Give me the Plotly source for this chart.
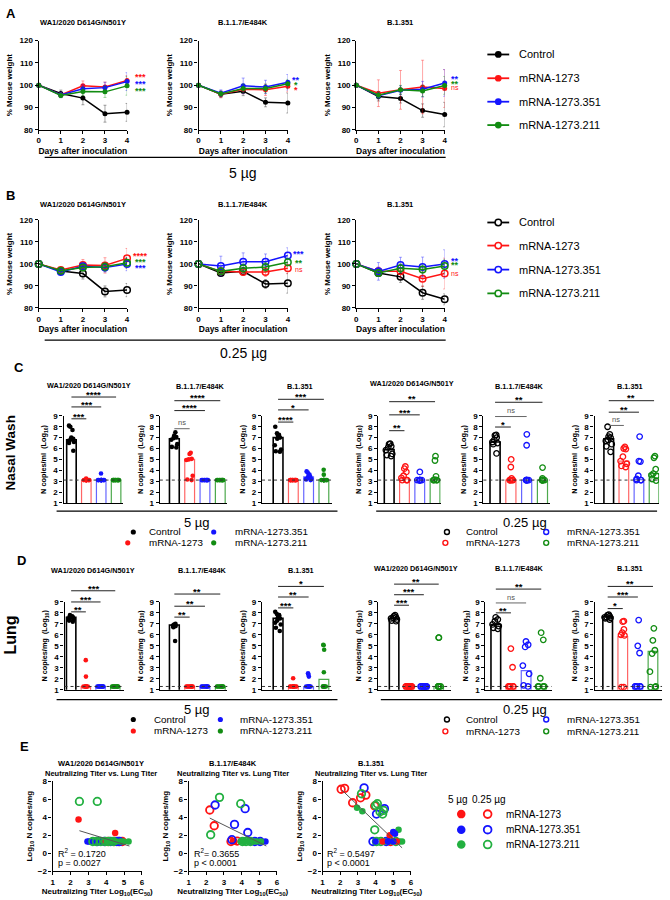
import plotly.graph_objects as go

W, H = 670, 900
FONT = "Liberation Sans, Arial, Helvetica, sans-serif"

# ---------------- categories / ticks ----------------
groups = ["Control", "mRNA-1273", "mRNA-1273.351", "mRNA-1273.211"]
variants = ["WA1/2020 D614G/N501Y", "B.1.1.7/E484K", "B.1.351"]
days = [0, 1, 2, 3, 4]
weight_yticks = [80, 90, 100, 110, 120]
log_yticks = [1, 2, 3, 4, 5, 6, 7, 8, 9]
e_xticks = [1, 2, 3, 4, 5, 6]
e_yticks = [-2, 0, 2, 4, 6, 8]
nasal_lod = 3.1
lung_lod = 1.3

colors = {"Control": "#000000", "mRNA-1273": "#ff1414", "mRNA-1273.351": "#1414ff", "mRNA-1273.211": "#128c12"}
err_colors = {"Control": "rgba(0,0,0,0.35)", "mRNA-1273": "rgba(255,0,0,0.35)",
              "mRNA-1273.351": "rgba(0,0,255,0.35)", "mRNA-1273.211": "rgba(0,140,0,0.35)"}
bar_line = {"Control": "#000000", "mRNA-1273": "rgba(255,20,20,0.65)",
            "mRNA-1273.351": "rgba(20,20,255,0.65)", "mRNA-1273.211": "rgba(18,140,18,0.75)"}
e_colors = {"mRNA-1273": "#ff1414", "mRNA-1273.351": "#1414ff", "mRNA-1273.211": "#22b040"}

# ---------------- panel A: weights, 5 ug ----------------
wt5_wa1_control = [100, 96.3, 94.2, 87.2, 87.8]
wt5_wa1_1273 = [100, 95.6, 99.7, 99.2, 102.1]
wt5_wa1_351 = [100, 95.6, 98.4, 98.9, 101.6]
wt5_wa1_211 = [100, 95.4, 97.2, 97.0, 99.7]
sd5_wa1_control = [0, 1.5, 3.0, 3.8, 4.0]
sd5_wa1_1273 = [0, 1.0, 2.2, 2.2, 2.2]
sd5_wa1_351 = [0, 1.2, 1.8, 2.4, 4.0]
sd5_wa1_211 = [0, 1.0, 1.8, 2.5, 4.2]

wt5_b117_control = [100, 95.9, 97.3, 92.3, 92.0]
wt5_b117_1273 = [100, 95.9, 98.2, 97.9, 99.5]
wt5_b117_351 = [100, 96.4, 99.7, 99.2, 101.3]
wt5_b117_211 = [100, 96.1, 98.5, 98.5, 100.6]
sd5_b117_control = [0, 1.5, 2.0, 2.0, 4.5]
sd5_b117_1273 = [0, 1.5, 2.0, 2.5, 2.5]
sd5_b117_351 = [0, 1.5, 3.5, 3.0, 3.5]
sd5_b117_211 = [0, 1.0, 2.0, 2.0, 2.0]

wt5_b1351_control = [100, 94.9, 94.0, 88.6, 86.8]
wt5_b1351_1273 = [100, 96.4, 97.9, 99.2, 98.5]
wt5_b1351_351 = [100, 95.3, 97.7, 98.2, 101.0]
wt5_b1351_211 = [100, 95.5, 97.9, 97.4, 99.9]
sd5_b1351_control = [0, 2.0, 2.0, 3.0, 5.5]
sd5_b1351_1273 = [0, 6.0, 8.7, 12.0, 8.5]
sd5_b1351_351 = [0, 1.5, 2.0, 3.5, 6.0]
sd5_b1351_211 = [0, 1.5, 2.0, 2.5, 4.0]

# ---------------- panel B: weights, 0.25 ug ----------------
wt025_wa1_control = [100, 96.8, 95.6, 87.5, 88.1]
wt025_wa1_1273 = [100, 97.2, 99.5, 99.3, 102.5]
wt025_wa1_351 = [100, 96.3, 98.9, 98.3, 99.9]
wt025_wa1_211 = [100, 96.9, 98.3, 98.7, 100.5]
sd025_wa1_control = [0, 1.5, 2.5, 2.5, 3.0]
sd025_wa1_1273 = [0, 1.0, 2.5, 3.5, 4.5]
sd025_wa1_351 = [0, 1.0, 1.5, 2.0, 3.0]
sd025_wa1_211 = [0, 1.0, 1.5, 2.0, 2.5]

wt025_b117_control = [100, 95.9, 96.6, 90.9, 91.2]
wt025_b117_1273 = [100, 96.6, 96.3, 96.3, 98.0]
wt025_b117_351 = [100, 99.0, 101.0, 101.0, 103.8]
wt025_b117_211 = [100, 96.6, 98.0, 98.6, 100.7]
sd025_b117_control = [0, 1.0, 1.5, 2.0, 4.5]
sd025_b117_1273 = [0, 1.5, 1.5, 2.0, 2.5]
sd025_b117_351 = [0, 4.5, 4.0, 3.5, 3.5]
sd025_b117_211 = [0, 1.5, 2.0, 2.0, 2.0]

wt025_b1351_control = [100, 95.9, 94.1, 86.9, 83.9]
wt025_b1351_1273 = [100, 96.6, 96.6, 93.3, 95.6]
wt025_b1351_351 = [100, 96.6, 99.5, 98.6, 99.9]
wt025_b1351_211 = [100, 95.9, 98.0, 97.5, 99.0]
sd025_b1351_control = [0, 1.5, 2.5, 3.0, 2.5]
sd025_b1351_1273 = [0, 2.0, 3.0, 3.5, 7.0]
sd025_b1351_351 = [0, 4.0, 3.5, 4.5, 6.5]
sd025_b1351_211 = [0, 1.5, 2.0, 2.0, 3.0]

# significance vs control, order: mRNA-1273, mRNA-1273.351, mRNA-1273.211
wsig5_wa1 = ["***", "***", "***"]
wsig5_b117 = ["*", "**", "*"]
wsig5_b1351 = ["ns", "**", "**"]
wsig025_wa1 = ["****", "***", "***"]
wsig025_b117 = ["ns", "***", "**"]
wsig025_b1351 = ["ns", "**", "**"]

# ---------------- panel C: nasal wash (log10 N copies/ml) ----------------
nw5_wa1_control = [8.1, 8.0, 7.7, 7.0, 6.9, 6.8, 6.7, 6.6, 6.5, 5.8]
nw5_wa1_1273 = [3.25, 3.15, 3.1, 3.1, 3.1, 3.1, 3.1, 3.1, 3.1, 3.1]
nw5_wa1_351 = [3.7, 3.1, 3.1, 3.1, 3.1, 3.1, 3.1, 3.1, 3.1, 3.1]
nw5_wa1_211 = [3.1, 3.1, 3.1, 3.1, 3.1, 3.1, 3.1, 3.1, 3.1, 3.1]
nw5_wa1_bar = [6.8, 3.1, 3.15, 3.1]
nw5_wa1_sig = ["***", "***", "****"]

nw5_b117_control = [7.5, 7.2, 7.05, 6.95, 6.8, 6.4, 6.15, 6.1]
nw5_b117_1273 = [5.6, 5.5, 5.05, 5.0, 4.95, 3.5, 3.15, 3.1]
nw5_b117_351 = [3.1, 3.1, 3.1, 3.1, 3.1, 3.1, 3.1, 3.1]
nw5_b117_211 = [3.1, 3.1, 3.1, 3.1, 3.1, 3.1, 3.1, 3.1]
nw5_b117_bar = [6.9, 5.0, 3.1, 3.1]
nw5_b117_sig = ["ns", "****", "****"]

nw5_b1351_control = [8.0, 7.4, 7.25, 7.2, 7.0, 6.9, 6.3, 5.9, 5.75, 5.7]
nw5_b1351_1273 = [3.1, 3.1, 3.1, 3.1, 3.1, 3.1, 3.1, 3.1, 3.1, 3.1]
nw5_b1351_351 = [3.9, 3.8, 3.6, 3.5, 3.4, 3.3, 3.2, 3.2, 3.15, 3.1]
nw5_b1351_211 = [4.05, 3.6, 3.1, 3.1, 3.1, 3.1, 3.1, 3.1, 3.1, 3.1]
nw5_b1351_bar = [7.0, 3.1, 3.4, 3.15]
nw5_b1351_sig = ["****", "*", "***"]

nw025_wa1_control = [6.45, 6.4, 6.2, 6.1, 5.85, 5.5, 5.4, 5.3]
nw025_wa1_1273 = [4.35, 4.15, 3.85, 3.5, 3.3, 3.1, 3.1, 3.1]
nw025_wa1_351 = [3.85, 3.1, 3.1, 3.1, 3.1, 3.1, 3.1, 3.1]
nw025_wa1_211 = [5.3, 4.9, 3.45, 3.15, 3.1, 3.1, 3.1, 3.1]
nw025_wa1_bar = [5.9, 3.2, 3.1, 3.2]
nw025_wa1_sig = ["**", "***", "**"]

nw025_b117_control = [7.25, 7.2, 7.0, 6.8, 6.6, 6.5, 6.4, 5.55]
nw025_b117_1273 = [5.0, 4.3, 3.25, 3.1, 3.1, 3.1, 3.1, 3.1]
nw025_b117_351 = [7.3, 6.3, 3.1, 3.1, 3.1, 3.1, 3.1, 3.1]
nw025_b117_211 = [4.25, 3.25, 3.1, 3.1, 3.1, 3.1, 3.1, 3.1]
nw025_b117_bar = [6.6, 3.1, 3.1, 3.1]
nw025_b117_sig = ["*", "ns", "**"]

nw025_b1351_control = [8.0, 7.3, 7.1, 7.0, 6.8, 6.7, 6.4, 6.2, 5.7]
nw025_b1351_1273 = [6.15, 6.0, 5.95, 5.25, 4.85, 4.6, 4.4, 4.3]
nw025_b1351_351 = [7.1, 4.85, 4.8, 3.5, 3.2, 3.1, 3.1, 3.1]
nw025_b1351_211 = [5.3, 5.15, 4.1, 3.7, 3.55, 3.5, 3.2, 3.05]
nw025_b1351_bar = [6.9, 4.85, 3.15, 3.7]
nw025_b1351_sig = ["ns", "**", "**"]

# ---------------- panel D: lung (log10 N copies/mg) ----------------
lu5_wa1_control = [7.8, 7.7, 7.65, 7.6, 7.55, 7.5, 7.45, 7.3, 7.2]
lu5_wa1_1273 = [3.7, 2.2, 1.3, 1.3, 1.3, 1.3, 1.3, 1.3, 1.3]
lu5_wa1_351 = [1.3, 1.3, 1.3, 1.3, 1.3, 1.3, 1.3, 1.3, 1.3]
lu5_wa1_211 = [1.3, 1.3, 1.3, 1.3, 1.3, 1.3, 1.3, 1.3, 1.3]
lu5_wa1_bar = [7.6, 1.3, 1.3, 1.3]
lu5_wa1_sig = ["**", "***", "***"]

lu5_b117_control = [7.0, 6.95, 6.9, 6.9, 6.85, 6.8, 6.7, 5.45]
lu5_b117_1273 = [1.3, 1.3, 1.3, 1.3, 1.3, 1.3, 1.3, 1.3]
lu5_b117_351 = [1.3, 1.3, 1.3, 1.3, 1.3, 1.3, 1.3, 1.3]
lu5_b117_211 = [1.3, 1.3, 1.3, 1.3, 1.3, 1.3, 1.3, 1.3]
lu5_b117_bar = [6.9, 1.3, 1.3, 1.3]
lu5_b117_sig = ["**", "**", "**"]

lu5_b1351_control = [8.1, 7.9, 7.8, 7.6, 7.5, 7.3, 7.1, 6.95, 6.65, 6.35]
lu5_b1351_1273 = [2.05, 1.3, 1.3, 1.3, 1.3, 1.3, 1.3, 1.3, 1.3, 1.3]
lu5_b1351_351 = [2.5, 2.4, 2.2, 1.3, 1.3, 1.3, 1.3, 1.3, 1.3, 1.3]
lu5_b1351_211 = [5.1, 5.05, 4.65, 2.6, 1.3, 1.3, 1.3, 1.3, 1.3, 1.3]
lu5_b1351_bar = [7.5, 1.3, 1.3, 1.95]
lu5_b1351_sig = ["***", "**", "*"]

lu025_wa1_control = [7.8, 7.7, 7.6, 7.55, 7.5, 7.4, 7.3, 7.25]
lu025_wa1_1273 = [1.3, 1.3, 1.3, 1.3, 1.3, 1.3, 1.3, 1.3]
lu025_wa1_351 = [1.3, 1.3, 1.3, 1.3, 1.3, 1.3, 1.3, 1.3]
lu025_wa1_211 = [5.75, 5.75, 1.3, 1.3, 1.3, 1.3, 1.3, 1.3]
lu025_wa1_bar = [7.5, 1.3, 1.3, 1.3]
lu025_wa1_sig = ["***", "***", "**"]

lu025_b117_control = [7.6, 7.4, 7.25, 6.95, 6.8, 6.65, 6.55]
lu025_b117_1273 = [4.75, 3.05, 1.3, 1.3, 1.3, 1.3, 1.3]
lu025_b117_351 = [5.4, 5.1, 4.9, 3.2, 2.45, 1.4, 1.3]
lu025_b117_211 = [6.2, 5.55, 2.05, 1.3, 1.3, 1.3, 1.3]
lu025_b117_bar = [6.95, 1.3, 2.75, 1.3]
lu025_b117_sig = ["**", "ns", "**"]

lu025_b1351_control = [7.85, 7.8, 7.7, 7.6, 7.6, 7.55, 7.5, 7.4]
lu025_b1351_1273 = [7.25, 7.2, 6.5, 6.2, 6.0, 5.95, 1.25, 1.25]
lu025_b1351_351 = [7.35, 5.0, 4.35, 1.3, 1.3, 1.3, 1.3, 1.3]
lu025_b1351_211 = [6.6, 5.5, 4.6, 4.3, 2.65, 1.3, 1.25, 1.25]
lu025_b1351_bar = [7.65, 5.85, 1.3, 4.5]
lu025_b1351_sig = ["*", "***", "**"]

# ---------------- panel E: neutralizing titer vs lung titer ----------------
e1_1273_5_x = [2.45, 4.5, 3.75, 4.05, 4.3, 4.6, 4.85]
e1_1273_5_y = [3.75, 2.25, 1.3, 1.3, 1.3, 1.3, 1.3]
e1_1273_025_x = [4.1, 4.45, 4.7, 4.9]
e1_1273_025_y = [1.3, 1.3, 1.3, 1.3]
e1_351_5_x = [2.95, 3.05, 3.15, 3.3, 3.45, 3.6]
e1_351_5_y = [1.3, 1.3, 1.3, 1.3, 1.3, 1.3]
e1_351_025_x = [3.5, 3.9, 4.25, 4.6, 4.75]
e1_351_025_y = [1.3, 1.3, 1.3, 1.3, 1.3]
e1_211_025_x = [2.5, 3.5, 3.25, 3.45, 3.7, 3.95, 4.15, 4.4]
e1_211_025_y = [5.75, 5.75, 1.3, 1.3, 1.3, 1.3, 1.3, 1.3]
e1_211_5_x = [4.05, 4.3, 4.55, 4.8, 4.95, 5.25]
e1_211_5_y = [1.3, 1.3, 1.3, 1.3, 1.3, 1.3]
e1_fit_x = [2.5, 5.3]
e1_fit_y = [2.5, 0.8]
e1_r2 = "0.1720"
e1_p = "p = 0.0027"

e2_1273_025_x = [2.2, 2.45, 3.4, 3.75]
e2_1273_025_y = [4.8, 3.05, 1.3, 1.35]
e2_1273_5_x = [3.5, 3.6, 4.6]
e2_1273_5_y = [1.3, 1.3, 1.3]
e2_351_025_x = [2.5, 3.6, 4.2, 4.35, 3.45, 4.75, 5.05]
e2_351_025_y = [5.35, 3.2, 4.95, 2.3, 1.5, 1.3, 1.3]
e2_351_5_x = [4.5, 4.9, 5.35]
e2_351_5_y = [1.3, 1.3, 1.3]
e2_211_025_x = [2.25, 2.75, 3.95, 4.05, 4.25, 4.5]
e2_211_025_y = [2.05, 6.2, 5.5, 1.3, 1.3, 1.3]
e2_211_5_x = [3.95, 4.1, 4.35, 4.65, 4.85, 5.1]
e2_211_5_y = [1.3, 1.3, 1.3, 1.3, 1.3, 1.3]
e2_fit_x = [2.2, 5.4]
e2_fit_y = [3.9, 0.8]
e2_r2 = "0.3655"
e2_p = "p < 0.0001"

e3_1273_025_x = [2.05, 2.25, 2.7, 3.15, 3.45, 3.95, 4.85]
e3_1273_025_y = [7.1, 7.2, 5.6, 6.15, 6.45, 5.25, 1.3]
e3_1273_5_x = [4.8, 4.4, 5.2]
e3_1273_5_y = [2.0, 1.3, 1.3]
e3_351_025_x = [3.35, 4.05, 4.5, 3.85, 4.6]
e3_351_025_y = [7.25, 4.35, 4.95, 1.3, 1.3]
e3_351_5_x = [5.0, 5.1, 4.0, 4.7, 5.0]
e3_351_5_y = [2.35, 2.15, 1.3, 1.3, 1.3]
e3_211_025_x = [3.2, 4.0, 4.1, 4.25, 4.4, 4.45, 3.95, 4.05, 4.3, 5.15]
e3_211_025_y = [6.6, 5.3, 5.5, 4.6, 4.35, 4.75, 2.6, 1.3, 1.3, 1.3]
e3_211_5_x = [2.95, 3.25, 5.3, 4.55, 4.9, 5.35, 5.5]
e3_211_5_y = [5.05, 4.65, 2.6, 1.3, 1.3, 1.3, 1.3]
e3_fit_x = [2.1, 5.5]
e3_fit_y = [7.0, 0.6]
e3_r2 = "0.5497"
e3_p = "p < 0.0001"

# ---------------- assemble ----------------
weights = {
    ("5", 0): ([wt5_wa1_control, wt5_wa1_1273, wt5_wa1_351, wt5_wa1_211],
               [sd5_wa1_control, sd5_wa1_1273, sd5_wa1_351, sd5_wa1_211], wsig5_wa1),
    ("5", 1): ([wt5_b117_control, wt5_b117_1273, wt5_b117_351, wt5_b117_211],
               [sd5_b117_control, sd5_b117_1273, sd5_b117_351, sd5_b117_211], wsig5_b117),
    ("5", 2): ([wt5_b1351_control, wt5_b1351_1273, wt5_b1351_351, wt5_b1351_211],
               [sd5_b1351_control, sd5_b1351_1273, sd5_b1351_351, sd5_b1351_211], wsig5_b1351),
    ("025", 0): ([wt025_wa1_control, wt025_wa1_1273, wt025_wa1_351, wt025_wa1_211],
                 [sd025_wa1_control, sd025_wa1_1273, sd025_wa1_351, sd025_wa1_211], wsig025_wa1),
    ("025", 1): ([wt025_b117_control, wt025_b117_1273, wt025_b117_351, wt025_b117_211],
                 [sd025_b117_control, sd025_b117_1273, sd025_b117_351, sd025_b117_211], wsig025_b117),
    ("025", 2): ([wt025_b1351_control, wt025_b1351_1273, wt025_b1351_351, wt025_b1351_211],
                 [sd025_b1351_control, sd025_b1351_1273, sd025_b1351_351, sd025_b1351_211], wsig025_b1351),
}

fig = go.Figure()
axes = {}
annotations = []
shapes = []
count = [0]


def new_axes(x0, x1, ytop, ybot, xr, yr, xkw=None, ykw=None):
    count[0] += 1
    n = count[0]
    s = "" if n == 1 else str(n)
    base = dict(showline=True, linecolor="black", linewidth=1.3, ticks="outside", ticklen=3,
                tickwidth=1.3, tickcolor="black", showgrid=False, zeroline=False, fixedrange=True,
                tickfont=dict(family=FONT, size=8, color="black", weight="bold"))
    xa = dict(base, domain=[x0 / W, x1 / W], range=xr, anchor="y" + s)
    ya = dict(base, domain=[1 - ybot / H, 1 - ytop / H], range=yr, anchor="x" + s)
    if xkw:
        xa.update(xkw)
    if ykw:
        ya.update(ykw)
    axes["xaxis" + s] = xa
    axes["yaxis" + s] = ya
    return "x" + s, "y" + s


def text(x, y, s, size=8, bold=False, color="black", xanchor="center", yanchor="middle", angle=0):
    annotations.append(dict(x=x / W, y=1 - y / H, xref="paper", yref="paper", text=s, showarrow=False,
                            xanchor=xanchor, yanchor=yanchor, textangle=angle, borderpad=0,
                            font=dict(family=FONT, size=size, color=color,
                                      weight="bold" if bold else "normal")))


def seg(x0, y0, x1, y1, color="black", width=1.0, dash="solid"):
    shapes.append(dict(type="line", xref="paper", yref="paper", x0=x0 / W, y0=1 - y0 / H,
                       x1=x1 / W, y1=1 - y1 / H, line=dict(color=color, width=width, dash=dash)))


def dot(cx, cy, r, color, filled, lw=1.5):
    shapes.append(dict(type="circle", xref="paper", yref="paper", x0=(cx - r) / W, x1=(cx + r) / W,
                       y0=1 - (cy + r) / H, y1=1 - (cy - r) / H,
                       fillcolor=color if filled else "white",
                       line=dict(color=color, width=0 if filled else lw)))


def atitle(s, size=8, standoff=4):
    return dict(text=s, font=dict(family=FONT, size=size, color="black", weight="bold"), standoff=standoff)


# ---------- panels A & B ----------
line_cols = [(37, 126), (198, 288), (357, 446)]
line_title_x = [81.5, 242.7, 400.8]
line_rows = {"5": dict(top=37, bot=127, title=19, sig_x=[140, 296, 456],
                       sig_y=[[72, 79, 86], [85, 75, 80], [85, 74.5, 79]]),
             "025": dict(top=218, bot=307, title=202.3, sig_x=[140, 299, 456.7],
                         sig_y=[[253.3, 265.3, 259.3], [268.7, 250.7, 259.7], [273, 257.7, 262]])}

for dose in ["5", "025"]:
    row = line_rows[dose]
    for c, (x0, x1) in enumerate(line_cols):
        xa, ya = new_axes(x0, x1, row["top"], row["bot"], [0, 4], [80, 120],
                          xkw=dict(tickvals=days, title=atitle("Days after inoculation", 8.5, 3)),
                          ykw=dict(tickvals=weight_yticks, title=atitle("% Mouse weight", 8, 5)))
        vals, sds, sig = weights[(dose, c)]
        for g, y, sd in zip(groups, vals, sds):
            if dose == "5":
                mk = dict(color=colors[g], size=5, symbol="circle")
            else:
                mk = dict(color=colors[g], size=6.5, symbol="circle-open", line=dict(width=1.5, color=colors[g]))
            fig.add_trace(go.Scatter(
                x=days, y=y, xaxis=xa, yaxis=ya, mode="lines+markers", name=g, showlegend=False,
                line=dict(color=colors[g], width=1.5), marker=mk, cliponaxis=False,
                error_y=dict(type="data", array=sd, color=err_colors[g], thickness=1, width=1.5)))
        text(line_title_x[c], row["title"], variants[c], 7.5, True)
        for k, g in enumerate(groups[1:]):
            lab = sig[k]
            if lab == "ns":
                text(row["sig_x"][c], row["sig_y"][c][k] - 1, lab, 7, False, colors[g])
            else:
                text(row["sig_x"][c], row["sig_y"][c][k] + 1.5, lab, 9, True, colors[g])

# letters / dose dividers for A and B
text(9, 10, "A", 13, True)
text(9, 193, "B", 13, True)
seg(43, 155, 447, 155, "black", 1.2)
text(243, 171, "5 µg", 14)
seg(43, 339.5, 447, 339.5, "black", 1.2)
text(243, 353, "0.25 µg", 14)

# legends A and B
for yrows, filled in [([51, 75, 98.7, 122.3], True), ([220.7, 244, 268.3, 292.3], False)]:
    for g, yy in zip(groups, yrows):
        seg(489, yy, 511, yy, colors[g], 1.8)
        dot(500, yy, 3.4 if filled else 3.2, colors[g], filled, 1.5)
        text(520, yy, g, 11, xanchor="left")

# ---------- panels C & D ----------
bar_panels = [
    # kind, dose, col, x0, x1, ytop, ybot, xrange, bracket y (px), title x, title y, points, bar, sig
    ("nw", "5", 0, 62, 122, 416, 504, [-0.53, 3.47], [419, 407, 397], 88, 385,
     [nw5_wa1_control, nw5_wa1_1273, nw5_wa1_351, nw5_wa1_211], nw5_wa1_bar, nw5_wa1_sig),
    ("nw", "5", 1, 159, 227, 416, 504, [-0.95, 3.46], [429, 410.7, 400.7], 200, 386.7,
     [nw5_b117_control, nw5_b117_1273, nw5_b117_351, nw5_b117_211], nw5_b117_bar, nw5_b117_sig),
    ("nw", "5", 2, 262, 332, 416, 504, [-1.05, 3.5], [422.3, 410, 399.3], 300, 386.7,
     [nw5_b1351_control, nw5_b1351_1273, nw5_b1351_351, nw5_b1351_211], nw5_b1351_bar, nw5_b1351_sig),
    ("nw", "025", 0, 379, 442, 416, 504, [-0.72, 3.37], [431, 415, 401.7], 413, 383.3,
     [nw025_wa1_control, nw025_wa1_1273, nw025_wa1_351, nw025_wa1_211], nw025_wa1_bar, nw025_wa1_sig),
    ("nw", "025", 1, 485, 552, 416, 504, [-0.74, 3.47], [427.3, 416.7, 402.3], 521, 386.7,
     [nw025_b117_control, nw025_b117_1273, nw025_b117_351, nw025_b117_211], nw025_b117_bar, nw025_b117_sig),
    ("nw", "025", 2, 597, 662, 416, 504, [-0.94, 3.33], [425.7, 412.3, 400.7], 633, 386.7,
     [nw025_b1351_control, nw025_b1351_1273, nw025_b1351_351, nw025_b1351_211], nw025_b1351_bar, nw025_b1351_sig),
    ("lu", "5", 0, 63, 123, 604, 692.7, [-0.45, 3.6], [614, 604, 592.7], 91.7, 572.3,
     [lu5_wa1_control, lu5_wa1_1273, lu5_wa1_351, lu5_wa1_211], lu5_wa1_bar, lu5_wa1_sig),
    ("lu", "5", 1, 159, 227, 604, 692.7, [-0.95, 3.46], [619.3, 608.3, 596], 201.7, 572.3,
     [lu5_b117_control, lu5_b117_1273, lu5_b117_351, lu5_b117_211], lu5_b117_bar, lu5_b117_sig),
    ("lu", "5", 2, 262, 332, 604, 692.7, [-1.05, 3.5], [610, 599, 588.3], 301.7, 572.3,
     [lu5_b1351_control, lu5_b1351_1273, lu5_b1351_351, lu5_b1351_211], lu5_b1351_bar, lu5_b1351_sig),
    ("lu", "025", 0, 379, 452, 604, 692.7, [-1.07, 3.8], [607.3, 596.7, 586], 417, 570.7,
     [lu025_wa1_control, lu025_wa1_1273, lu025_wa1_351, lu025_wa1_211], lu025_wa1_bar, lu025_wa1_sig),
    ("lu", "025", 1, 487, 554, 604, 692.7, [-0.69, 3.7], [615, 605, 591], 521.7, 570.7,
     [lu025_b117_control, lu025_b117_1273, lu025_b117_351, lu025_b117_211], lu025_b117_bar, lu025_b117_sig),
    ("lu", "025", 2, 597, 665, 604, 692.7, [-0.87, 3.6], [610.7, 599, 588.3], 632.5, 570.7,
     [lu025_b1351_control, lu025_b1351_1273, lu025_b1351_351, lu025_b1351_211], lu025_b1351_bar, lu025_b1351_sig),
]

for (kind, dose, col, x0, x1, ytop, ybot, xr, bys, tx, ty, pts, bar, sig) in bar_panels:
    ytitle = "N copies/ml  (Log<sub>10</sub>)" if kind == "nw" else "N copies/mg  (Log<sub>10</sub>)"
    xa, ya = new_axes(x0, x1, ytop, ybot, xr, [1, 9],
                      xkw=dict(showticklabels=False, ticks=""),
                      ykw=dict(tickvals=log_yticks, title=atitle(ytitle, 7.3, 5)))
    pos = list(range(len(groups)))
    fig.add_trace(go.Bar(
        x=pos, y=bar, xaxis=xa, yaxis=ya, width=0.64, showlegend=False, hoverinfo="skip",
        marker=dict(color="white", line=dict(color=[bar_line[g] for g in groups],
                                             width=[1.6, 1.2, 1.2, 1.2]))))
    lod = nasal_lod if kind == "nw" else lung_lod
    shapes.append(dict(type="line", xref=xa + " domain", yref=ya, x0=0, x1=1, y0=lod, y1=lod,
                       line=dict(color="#333333", width=1, dash="dot"), layer="above"))
    for i, (g, v) in enumerate(zip(groups, pts)):
        if dose == "5":
            mk = dict(color=colors[g], size=4.6, symbol="circle", line=dict(width=0))
        else:
            mk = dict(color=colors[g], size=5.5, symbol="circle-open", line=dict(width=1.3, color=colors[g]))
        fig.add_trace(go.Box(
            x=[pos[i]] * len(v), y=v, xaxis=xa, yaxis=ya, name=g, showlegend=False,
            boxpoints="all", jitter=0.85, pointpos=0, width=0.6, fillcolor="rgba(0,0,0,0)",
            line=dict(width=0, color="rgba(0,0,0,0)"), marker=mk, hoverinfo="skip"))

    def to_px(v, x0=x0, x1=x1, xr=xr):
        return x0 + (v - xr[0]) / (xr[1] - xr[0]) * (x1 - x0)

    for k in range(3):
        xa_px, xb_px = to_px(pos[0]), to_px(pos[k + 1])
        lab = sig[k]
        if lab == "ns":
            seg(xa_px, bys[k], xb_px, bys[k], "#666666", 1)
            text((xa_px + xb_px) / 2, bys[k] - 6, lab, 7.5, False, "#555555")
        else:
            seg(xa_px, bys[k], xb_px, bys[k], "#222222", 1)
            text((xa_px + xb_px) / 2, bys[k] - 2.8, lab, 9.5, True, "black")
    text(tx, ty, variants[col], 7.3, True)

text(16.7, 366.7, "C", 13, True)
text(20, 561.7, "D", 13, True)
text(9, 453, "Nasal Wash", 13.5, True, angle=-90)
text(9, 637, "Lung", 16, True, angle=-90)

# dose dividers for C and D
seg(55, 512.3, 338, 512.3, "black", 1.2)
text(196.7, 523.3, "5 µg", 13)
seg(377, 512.3, 660, 512.3, "black", 1.2)
text(526.7, 523.3, "0.25 µg", 13)
seg(55, 702.7, 338, 702.7, "black", 1.2)
text(196.7, 713, "5 µg", 13)
seg(381.7, 702.7, 665, 702.7, "black", 1.2)
text(526.7, 713, "0.25 µg", 13)

# legends C and D
leg_specs = [
    (533.3, 544.3, (132.3, 126.7), 146.7, 213.3, 233.3, True),
    (533.3, 544.3, (448.3, 446.7), 466.7, 548.3, 568.3, False),
    (722.7, 734.3, (132.3, 132.3), 151.7, 220, 238.3, True),
    (722.7, 734.7, (448.3, 446.7), 466.7, 548.3, 568.3, False),
]
for (yt, yb, lxs, ltx, rx, rtx, filled) in leg_specs:
    items = [(groups[0], lxs[0], yt, ltx), (groups[1], lxs[1], yb, ltx),
             (groups[2], rx, yt, rtx), (groups[3], rx, yb, rtx)]
    for g, mx, my, tx_ in items:
        dot(mx, my, 2.6 if filled else 2.5, colors[g], filled, 1.4)
        text(tx_, my, g, 9.8, xanchor="left")

# ---------- panel E ----------
e_panels = [
    (51, 141, "WA1/2020 D614G/N501Y", 100, e1_r2, e1_p, 55,
     [(e1_1273_5_x, e1_1273_5_y, "mRNA-1273", True), (e1_1273_025_x, e1_1273_025_y, "mRNA-1273", False),
      (e1_351_5_x, e1_351_5_y, "mRNA-1273.351", True), (e1_351_025_x, e1_351_025_y, "mRNA-1273.351", False),
      (e1_211_025_x, e1_211_025_y, "mRNA-1273.211", False), (e1_211_5_x, e1_211_5_y, "mRNA-1273.211", True)],
     e1_fit_x, e1_fit_y, " = "),
    (188, 277, "B.1.17/E484K", 233, e2_r2, e2_p, 192,
     [(e2_1273_5_x, e2_1273_5_y, "mRNA-1273", True), (e2_1273_025_x, e2_1273_025_y, "mRNA-1273", False),
      (e2_351_5_x, e2_351_5_y, "mRNA-1273.351", True), (e2_351_025_x, e2_351_025_y, "mRNA-1273.351", False),
      (e2_211_025_x, e2_211_025_y, "mRNA-1273.211", False), (e2_211_5_x, e2_211_5_y, "mRNA-1273.211", True)],
     e2_fit_x, e2_fit_y, "= "),
    (323, 412, "B.1.351", 371.7, e3_r2, e3_p, 326.7,
     [(e3_1273_025_x, e3_1273_025_y, "mRNA-1273", False), (e3_351_025_x, e3_351_025_y, "mRNA-1273.351", False),
      (e3_211_025_x, e3_211_025_y, "mRNA-1273.211", False), (e3_211_5_x, e3_211_5_y, "mRNA-1273.211", True),
      (e3_1273_5_x, e3_1273_5_y, "mRNA-1273", True), (e3_351_5_x, e3_351_5_y, "mRNA-1273.351", True)],
     e3_fit_x, e3_fit_y, " = "),
]
for (x0, x1, vname, tcx, r2, pv, rx, series, fx, fy, eq) in e_panels:
    xa, ya = new_axes(x0, x1, 785, 876, [1, 6], [-2, 8],
                      xkw=dict(tickvals=e_xticks, ticklen=3,
                               title=atitle("Neutralizing Titer Log<sub>10</sub>(EC<sub>50</sub>)", 8, 1)),
                      ykw=dict(tickvals=e_yticks, title=atitle("Log<sub>10</sub> N copies/mg", 8, 3)))
    for sx, sy, g, filled in series:
        if filled:
            mk = dict(color=e_colors[g], size=6.5, symbol="circle", line=dict(width=0))
        else:
            mk = dict(color=e_colors[g], size=7.5, symbol="circle-open", line=dict(width=1.8, color=e_colors[g]))
        fig.add_trace(go.Scatter(x=sx, y=sy, xaxis=xa, yaxis=ya, mode="markers", marker=mk,
                                 showlegend=False, cliponaxis=False, hoverinfo="skip"))
    fig.add_trace(go.Scatter(x=fx, y=fy, xaxis=xa, yaxis=ya, mode="lines", showlegend=False,
                             line=dict(color="#555555", width=1), hoverinfo="skip"))
    text(tcx, 767, vname, 7.5, True)
    text(tcx, 777.5, "Neutralizing Titer vs. Lung Titer", 7.5, True)
    text(rx, 858, "R<sup>2</sup>" + eq + r2, 9, xanchor="left")
    text(rx, 867.5, pv, 9, xanchor="left")

text(23, 750.5, "E", 13, True)

# legend E
text(459, 803.3, "5 µg", 10)
text(490.5, 803.3, "0.25 µg", 10)
for g, yy in zip(groups[1:], [818.3, 834, 849]):
    dot(462.7, yy, 4.3, e_colors[g], True)
    dot(489.3, yy, 3.9, e_colors[g], False, 1.8)
    text(506.7, yy, g, 10, xanchor="left")

fig.update_layout(
    width=W, height=H, margin=dict(l=0, r=0, t=0, b=0),
    paper_bgcolor="white", plot_bgcolor="rgba(0,0,0,0)",
    font=dict(family=FONT, color="black"), showlegend=False,
    annotations=annotations, shapes=shapes, barmode="overlay", boxmode="overlay",
    **axes)

fig.write_html("out.html", config={"displayModeBar": False},
               post_script="document.body.style.margin='0';")
